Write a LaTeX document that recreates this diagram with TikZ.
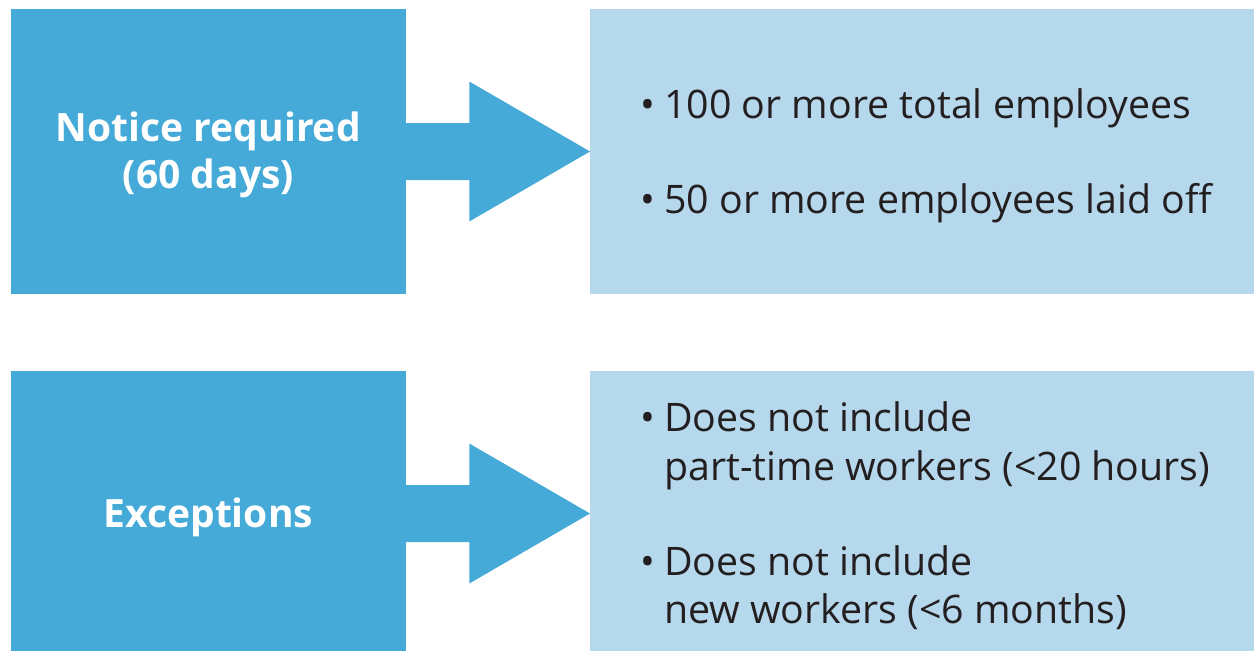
\documentclass[tikz,border=0pt]{standalone}
\usepackage{fontspec}
\setmainfont{Open Sans}
\usetikzlibrary{calc}
\definecolor{darkb}{RGB}{69,170,216}
\definecolor{lightb}{RGB}{182,216,236}
\definecolor{txt}{RGB}{35,31,32}
\begin{document}
\begin{tikzpicture}[x=1pt,y=-1pt,
  dbox/.style={fill=darkb, inner sep=0pt, outer sep=0pt, minimum width=394.7pt, minimum height=285pt, anchor=north west},
  lbox/.style={fill=lightb, inner sep=0pt, outer sep=0pt, minimum width=670pt, minimum height=285pt, anchor=north west},
  ltext/.style={text=white, font=\fontsize{39}{46.3}\selectfont\bfseries, align=center, inner sep=0pt, yshift=-3.5pt},
  rtext/.style={text=txt, font=\fontsize{39.3}{48}\selectfont, anchor=base west, inner sep=0pt},
  blockarrow/.style={fill=darkb}]
\useasboundingbox (0,0) rectangle (1254,651);
\clip (0,0) rectangle (1254,651);
\fill[white] (0,0) rectangle (1254,651);
\node[dbox] (d1) at (11,9) {};
\node[lbox] (l1) at (590,9) {};
\node[dbox] (d2) at (11,371) {};
\node[lbox] (l2) at (590,371) {};
\fill[blockarrow] ($(d1.east)+(-1,-28.5)$) -- ++(64.6,0) -- ++(0,-41.5) -- (l1.west) -- ($(d1.east)+(63.6,70)$) -- ++(0,-41.5) -- ($(d1.east)+(-1,28.5)$) -- cycle;
\fill[blockarrow] ($(d2.east)+(-1,-28.5)$) -- ++(64.6,0) -- ++(0,-41.5) -- (l2.west) -- ($(d2.east)+(63.6,70)$) -- ++(0,-41.5) -- ($(d2.east)+(-1,28.5)$) -- cycle;
\node[ltext] (t1) at (d1.center) {Notice required\\(60 days)};
\node[ltext] (t2) at (d2.center) {Exceptions};
\node[rtext] (r1) at (640,118) {\makebox[24pt][l]{•}100 or more total employees};
\node[rtext] (r2) at (640,213) {\makebox[24pt][l]{•}50 or more employees laid off};
\node[rtext] (r3) at (640,431.7) {\makebox[24pt][l]{•}Does not include};
\node[rtext] (r4) at (664,480) {part-time workers (<20 hours)};
\node[rtext] (r5) at (640,575) {\makebox[24pt][l]{•}Does not include};
\node[rtext] (r6) at (664,623) {new workers (<6 months)};
\end{tikzpicture}
\end{document}
